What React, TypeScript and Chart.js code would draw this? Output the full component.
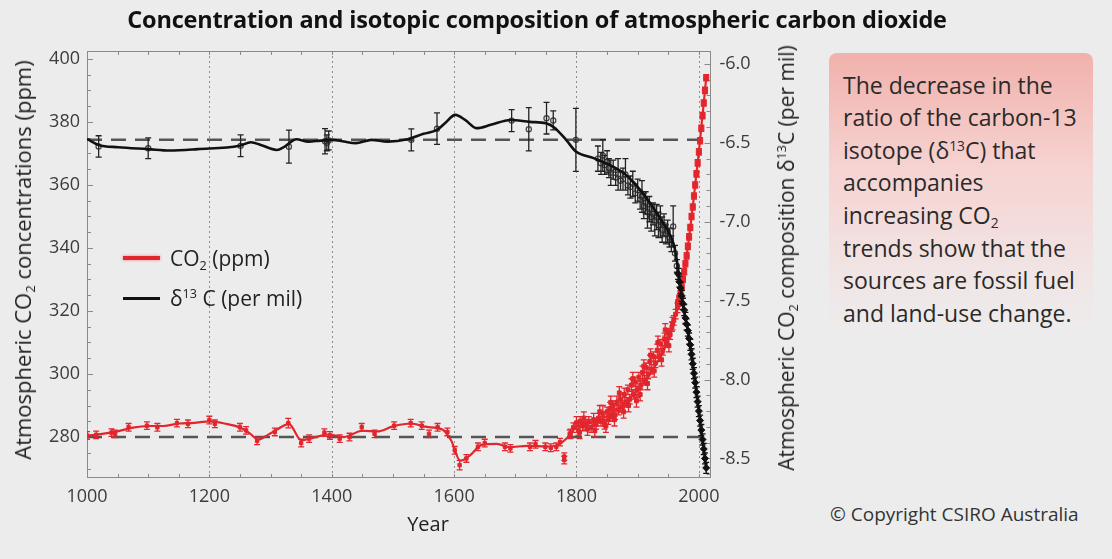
import React, { useEffect, useRef } from 'react';
import { Chart, registerables } from 'chart.js';
Chart.register(...registerables);

const FONT = '"Open Sans", "DejaVu Sans", sans-serif';
const RED = '#e2262d';
const BLACK = '#111111';
const BG = '#ececec';

// ---------- axis ticks ----------
const xTickYears = [1000, 1200, 1400, 1600, 1800, 2000];
const gridYears = [1200, 1400, 1600, 1800, 2000];
const co2Ticks = [280, 300, 320, 340, 360, 380, 400];
const d13cTicks = [-8.5, -8.0, -7.5, -7.0, -6.5, -6.0];

// ---------- CO2 (ppm) smoothed curve ----------
const co2LineYears = [1000, 1025, 1050, 1075, 1100, 1125, 1150, 1175, 1200, 1225, 1250, 1265, 1280, 1295, 1310, 1330, 1350, 1370, 1395, 1420, 1450, 1475, 1500, 1530, 1555, 1580, 1595, 1610, 1625, 1645, 1670, 1690, 1720, 1750, 1770, 1785, 1800, 1820, 1840, 1860, 1880, 1900, 1920, 1940, 1950, 1960, 1970, 1980, 1990, 2000, 2012];
const co2LineValues = [280.4, 281, 281.8, 283, 283.5, 283.5, 284.3, 284.5, 285, 284.3, 283, 281.3, 279.2, 280.6, 282.3, 284.2, 279, 279.8, 280.8, 280, 282, 281.8, 283.4, 284.3, 283.2, 282.5, 279, 272.5, 274, 277.5, 277.8, 276.8, 277.2, 277, 277.5, 279.8, 283.2, 284.3, 285.5, 288, 291, 295, 300, 306.5, 311, 317.5, 325.5, 337.5, 353, 370.5, 394];

// ---------- CO2 ice-core samples (pre-1800) ----------
const co2IceYears = [1000, 1015, 1040, 1046, 1068, 1098, 1115, 1147, 1165, 1200, 1209, 1250, 1260, 1278, 1307, 1329, 1350, 1363, 1388, 1397, 1413, 1429, 1449, 1470, 1502, 1529, 1547, 1559, 1573, 1589, 1601, 1609, 1620, 1639, 1650, 1683, 1692, 1724, 1733, 1749, 1758, 1767, 1773, 1780, 1780, 1789];
const co2IceValues = [280.5, 280.7, 281.4, 281, 283.1, 283.6, 283.1, 284.4, 284.2, 285.4, 284.2, 283.1, 282.1, 278.8, 281.6, 284.4, 278.1, 279.5, 281.4, 280.5, 279.5, 280, 283.1, 281, 283.6, 284.4, 283.6, 281, 283.1, 281.6, 275.8, 271.1, 273.2, 276.9, 278.1, 276.9, 276.4, 276.9, 277.7, 276.9, 276.6, 276.9, 278.4, 273.8, 272.7, 281];
const co2IceErrors = [1.2, 1.2, 1.2, 1.2, 1.2, 1.2, 1.2, 1.2, 1.2, 1.2, 1.2, 1.2, 1.2, 1.2, 1.2, 1.5, 1.2, 1.2, 1.2, 1.2, 1.2, 1.2, 1.2, 1.2, 1.2, 1.2, 1.2, 1.2, 1.2, 1.2, 1.2, 1.5, 1.2, 1.2, 1.2, 1.2, 1.2, 1.2, 1.2, 1.2, 1.2, 1.2, 1.2, 1.2, 1.2, 1.2];

// ---------- CO2 firn / ice samples 1790-1965 (cloud) ----------
const co2FirnYears = [1790, 1795, 1800, 1803, 1806, 1810, 1812, 1815, 1820, 1824, 1828, 1832, 1836, 1840, 1843, 1846, 1850, 1852, 1855, 1858, 1860, 1863, 1866, 1869, 1872, 1875, 1878, 1881, 1884, 1887, 1890, 1893, 1896, 1899, 1902, 1905, 1908, 1911, 1914, 1917, 1920, 1923, 1926, 1929, 1932, 1935, 1938, 1941, 1944, 1947, 1950, 1953, 1956, 1959, 1962, 1965];
const co2FirnValues = [281, 283, 284.5, 282, 285, 283.5, 286, 284, 285, 283, 285.5, 284, 286, 285, 287.5, 284, 288, 285.5, 289, 286.5, 290, 287, 291, 288.5, 292, 289.5, 293.5, 291, 295, 292, 296.5, 293.5, 297.5, 295, 299, 296.5, 300.5, 298, 302, 300, 304, 301.5, 305.5, 303.5, 307.5, 305.5, 309.5, 307.5, 311, 310, 313, 312.5, 315, 317, 319, 321];
const co2FirnErrors = [1.5, 1.5, 2, 1.5, 1.5, 1.5, 2, 1.5, 1.5, 1.5, 2, 1.5, 1.5, 1.5, 2.5, 1.5, 1.5, 1.5, 2, 1.5, 1.5, 1.5, 2, 1.5, 1.5, 1.5, 2, 1.5, 1.5, 1.5, 2, 1.5, 1.5, 2.5, 1.5, 1.5, 2, 1.5, 1.5, 1.5, 2, 1.5, 1.5, 1.5, 2, 1.5, 1.5, 1.5, 2, 1.5, 1.5, 1.5, 1.5, 1.5, 1.5, 1.5];
// second record inside the same cloud (lower / upper edge of the scatter)
const co2Firn2Years = [1805, 1818, 1830, 1838, 1848, 1856, 1862, 1870, 1877, 1885, 1892, 1898, 1904, 1910, 1916, 1921, 1927, 1933, 1939, 1945, 1951, 1957];
const co2Firn2Values = [281.5, 282.5, 282, 288, 283.5, 291, 285.5, 294, 288, 290, 298.5, 291.5, 293.5, 302.5, 297, 306, 301, 310, 304.5, 314, 309, 316];

// ---------- CO2 modern record ----------
const co2AirYears = [1966, 1968, 1970, 1972, 1974, 1976, 1978, 1980, 1982, 1984, 1986, 1988, 1990, 1992, 1994, 1996, 1998, 2000, 2002, 2004, 2006, 2008, 2010, 2012];
const co2AirValues = [322.5, 324, 325.5, 327.5, 330, 332.5, 335, 337.5, 340.5, 343.5, 346.5, 350, 353, 356.5, 360, 363.5, 367, 370.5, 374, 378, 382, 386, 390, 394];

// ---------- δ13C (per mil) smoothed curve ----------
const d13cLineYears = [1000, 1019, 1051, 1100, 1135, 1181, 1249, 1268, 1284, 1310, 1323, 1342, 1362, 1381, 1401, 1420, 1439, 1465, 1491, 1524, 1550, 1572, 1585, 1602, 1618, 1637, 1660, 1692, 1724, 1750, 1763, 1783, 1799, 1828, 1854, 1880, 1900, 1920, 1940, 1950, 1960, 1965, 1970, 1975, 1980, 1985, 1990, 1995, 2000, 2005, 2012];
const d13cLineValues = [-6.475, -6.513, -6.528, -6.54, -6.549, -6.54, -6.519, -6.496, -6.513, -6.545, -6.524, -6.477, -6.492, -6.486, -6.481, -6.492, -6.502, -6.481, -6.492, -6.477, -6.443, -6.418, -6.376, -6.323, -6.355, -6.407, -6.386, -6.355, -6.367, -6.376, -6.401, -6.481, -6.555, -6.597, -6.64, -6.7, -6.78, -6.88, -7.0, -7.06, -7.16, -7.27, -7.42, -7.55, -7.65, -7.76, -7.9, -8.05, -8.2, -8.35, -8.56];

// ---------- δ13C samples with uncertainties ----------
const d13cSampleYears = [1019, 1100, 1251, 1330, 1389, 1392, 1395, 1530, 1572, 1694, 1722, 1751, 1762, 1799, 1835, 1840, 1843, 1846, 1850, 1853, 1856, 1860, 1864, 1868, 1872, 1876, 1880, 1884, 1888, 1892, 1896, 1900, 1904, 1907, 1910, 1913, 1916, 1919, 1922, 1925, 1928, 1931, 1934, 1937, 1940, 1943, 1946, 1949, 1952, 1955, 1958, 1961, 1964];
const d13cSampleValues = [-6.523, -6.534, -6.519, -6.524, -6.49, -6.5, -6.485, -6.481, -6.41, -6.359, -6.414, -6.344, -6.358, -6.481, -6.6, -6.63, -6.58, -6.64, -6.62, -6.66, -6.69, -6.67, -6.72, -6.7, -6.74, -6.73, -6.7, -6.77, -6.78, -6.76, -6.82, -6.8, -6.86, -6.84, -6.9, -6.88, -6.94, -6.92, -6.97, -6.95, -6.99, -6.97, -7.02, -7.0, -7.05, -7.02, -7.08, -7.06, -7.1, -7.14, -7.03, -7.2, -7.28];
const d13cSampleErrors = [0.068, 0.066, 0.069, 0.105, 0.08, 0.05, 0.06, 0.07, 0.1, 0.07, 0.137, 0.1, 0.06, 0.2, 0.08, 0.07, 0.1, 0.06, 0.07, 0.06, 0.08, 0.06, 0.05, 0.1, 0.06, 0.07, 0.1, 0.06, 0.07, 0.08, 0.06, 0.07, 0.06, 0.1, 0.08, 0.07, 0.1, 0.08, 0.09, 0.07, 0.1, 0.08, 0.08, 0.1, 0.08, 0.07, 0.06, 0.07, 0.06, 0.05, 0.13, 0.05, 0.04];

// ---------- δ13C modern record ----------
const d13cAirYears = [1966, 1968, 1970, 1972, 1974, 1976, 1978, 1980, 1982, 1984, 1986, 1988, 1990, 1992, 1994, 1996, 1998, 2000, 2002, 2004, 2006, 2008, 2010, 2012];
const d13cAirValues = [-7.33, -7.38, -7.42, -7.47, -7.52, -7.56, -7.61, -7.65, -7.69, -7.74, -7.78, -7.84, -7.9, -7.96, -8.02, -8.08, -8.14, -8.2, -8.26, -8.32, -8.38, -8.44, -8.5, -8.56];

// ---------- reference (pre-industrial) levels ----------
const refYears = [1000, 2019];
const co2RefLevel = [280, 280];
const d13cRefLevel = [-6.48, -6.48];

const pts = (xs: number[], ys: number[]) => xs.map((x, i) => ({ x, y: ys[i] }));
const repeat = (n: number, v: number) => Array.from({ length: n }, () => v);

const framePlugin = {
  id: 'frameAndErrors',
  beforeDatasetsDraw(chart: any) {
    const { ctx, chartArea: a, scales } = chart;
    ctx.save();
    ctx.strokeStyle = '#8e8e8e';
    ctx.lineWidth = 1;
    ctx.setLineDash([2, 3]);
    for (const yr of gridYears) {
      const x = Math.round(scales.x.getPixelForValue(yr)) + 0.5;
      ctx.beginPath();
      ctx.moveTo(x, a.top);
      ctx.lineTo(x, a.bottom);
      ctx.stroke();
    }
    ctx.setLineDash([]);
    ctx.strokeStyle = '#8a8a8a';
    ctx.strokeRect(Math.round(a.left) + 0.5, Math.round(a.top) + 0.5, Math.round(a.width) - 1, Math.round(a.height) - 1);
    ctx.beginPath();
    for (let v = 270; v <= 400; v += 5) {
      const y = Math.round(scales.yL.getPixelForValue(v)) + 0.5;
      const len = v % 20 === 0 ? 6 : 4;
      ctx.moveTo(a.left, y);
      ctx.lineTo(a.left + len, y);
    }
    for (let k = -86; k <= -60; k += 1) {
      const y = Math.round(scales.yR.getPixelForValue(k / 10)) + 0.5;
      const len = k % 5 === 0 ? 6 : 4;
      ctx.moveTo(a.right, y);
      ctx.lineTo(a.right - len, y);
    }
    for (let yr = 1000; yr <= 2000; yr += 50) {
      const x = Math.round(scales.x.getPixelForValue(yr)) + 0.5;
      ctx.moveTo(x, a.bottom);
      ctx.lineTo(x, a.bottom - 4);
      ctx.moveTo(x, a.top);
      ctx.lineTo(x, a.top + 4);
    }
    ctx.stroke();
    ctx.restore();
  },
  afterDatasetDraw(chart: any, args: any) {
    const ds = chart.data.datasets[args.index];
    if (!ds.errorBars) return;
    const { ctx, chartArea: a } = chart;
    const xs = chart.scales[args.meta.xAxisID];
    const ys = chart.scales[args.meta.yAxisID];
    ctx.save();
    ctx.beginPath();
    ctx.rect(a.left, a.top, a.width, a.height);
    ctx.clip();
    ctx.strokeStyle = ds.errorColor;
    ctx.lineWidth = 1.3;
    ctx.beginPath();
    ds.data.forEach((p: any, i: number) => {
      const e = ds.errorBars[i];
      if (!e) return;
      const x = xs.getPixelForValue(p.x);
      const y1 = ys.getPixelForValue(p.y + e);
      const y2 = ys.getPixelForValue(p.y - e);
      ctx.moveTo(x, y1);
      ctx.lineTo(x, y2);
      ctx.moveTo(x - 3, y1);
      ctx.lineTo(x + 3, y1);
      ctx.moveTo(x - 3, y2);
      ctx.lineTo(x + 3, y2);
    });
    ctx.stroke();
    ctx.restore();
  },
};

const tickFont = { family: FONT, size: 18 };

export default function App() {
  const ref = useRef<HTMLCanvasElement>(null);
  useEffect(() => {
    const chart = new Chart(ref.current as HTMLCanvasElement, {
      type: 'line',
      data: {
        datasets: [
          {
            label: 'δ13C modern',
            data: pts(d13cAirYears, d13cAirValues),
            yAxisID: 'yR',
            showLine: false,
            pointStyle: 'rectRot',
            pointRadius: 3.5,
            pointBackgroundColor: BLACK,
            pointBorderColor: BLACK,
            errorBars: repeat(d13cAirYears.length, 0.035),
            errorColor: BLACK,
            order: 1,
          } as any,
          {
            label: 'δ13C (per mil)',
            data: pts(d13cLineYears, d13cLineValues),
            yAxisID: 'yR',
            borderColor: BLACK,
            borderWidth: 2.6,
            pointRadius: 0,
            cubicInterpolationMode: 'monotone',
            order: 2,
          },
          {
            label: 'δ13C samples',
            data: pts(d13cSampleYears, d13cSampleValues),
            yAxisID: 'yR',
            showLine: false,
            pointStyle: 'circle',
            pointRadius: 2.6,
            pointBackgroundColor: 'rgba(0,0,0,0)',
            pointBorderColor: '#444',
            pointBorderWidth: 1.2,
            errorBars: d13cSampleErrors,
            errorColor: '#222',
            order: 3,
          } as any,
          {
            label: 'CO2 modern',
            data: pts(co2AirYears, co2AirValues),
            yAxisID: 'yL',
            showLine: false,
            pointStyle: 'rect',
            pointRadius: 3.6,
            pointBackgroundColor: RED,
            pointBorderColor: RED,
            errorBars: repeat(co2AirYears.length, 1.0),
            errorColor: RED,
            order: 4,
          } as any,
          {
            label: 'CO2 (ppm)',
            data: pts(co2LineYears, co2LineValues),
            yAxisID: 'yL',
            borderColor: RED,
            borderWidth: 2.2,
            pointRadius: 0,
            cubicInterpolationMode: 'monotone',
            order: 5,
          },
          {
            label: 'CO2 firn',
            data: pts(co2FirnYears, co2FirnValues),
            yAxisID: 'yL',
            showLine: false,
            pointStyle: 'rect',
            pointRadius: 2.8,
            pointBackgroundColor: RED,
            pointBorderColor: RED,
            errorBars: co2FirnErrors,
            errorColor: RED,
            order: 6,
          } as any,
          {
            label: 'CO2 firn 2',
            data: pts(co2Firn2Years, co2Firn2Values),
            yAxisID: 'yL',
            showLine: false,
            pointStyle: 'rect',
            pointRadius: 2.8,
            pointBackgroundColor: RED,
            pointBorderColor: RED,
            errorBars: repeat(co2Firn2Years.length, 2),
            errorColor: RED,
            order: 6,
          } as any,
          {
            label: 'CO2 ice',
            data: pts(co2IceYears, co2IceValues),
            yAxisID: 'yL',
            showLine: false,
            pointStyle: 'rect',
            pointRadius: 2.4,
            pointBackgroundColor: RED,
            pointBorderColor: RED,
            errorBars: co2IceErrors,
            errorColor: RED,
            order: 7,
          } as any,
          {
            label: 'δ13C reference',
            data: pts(refYears, d13cRefLevel),
            yAxisID: 'yR',
            borderColor: '#555',
            borderWidth: 2.4,
            borderDash: [15, 9],
            pointRadius: 0,
            order: 8,
          },
          {
            label: 'CO2 reference',
            data: pts(refYears, co2RefLevel),
            yAxisID: 'yL',
            borderColor: '#555',
            borderWidth: 2.4,
            borderDash: [15, 9],
            pointRadius: 0,
            order: 9,
          },
        ],
      },
      options: {
        responsive: false,
        animation: false,
        events: [],
        layout: { padding: { top: 51, left: 0, right: 0, bottom: 0 } },
        plugins: { legend: { display: false }, tooltip: { enabled: false }, title: { display: false } },
        scales: {
          x: {
            type: 'linear',
            min: 1000,
            max: 2019,
            afterBuildTicks: (s: any) => { s.ticks = xTickYears.map((v) => ({ value: v })); },
            afterFit: (s: any) => { s.height = 81; },
            ticks: { font: tickFont, color: '#3c3c3c', padding: 8, maxRotation: 0, autoSkip: false, callback: (v: any) => String(v) },
            grid: { display: false, drawTicks: false },
            border: { display: false },
          },
          yL: {
            type: 'linear',
            position: 'left',
            min: 267,
            max: 402.5,
            afterBuildTicks: (s: any) => { s.ticks = co2Ticks.map((v) => ({ value: v })); },
            afterFit: (s: any) => { s.width = 87; },
            ticks: { font: tickFont, color: '#3c3c3c', padding: 7, callback: (v: any) => String(v) },
            grid: { display: false, drawTicks: false },
            border: { display: false },
          },
          yR: {
            type: 'linear',
            position: 'right',
            min: -8.624,
            max: -5.918,
            afterBuildTicks: (s: any) => { s.ticks = d13cTicks.map((v) => ({ value: v })); },
            afterFit: (s: any) => { s.width = 89.5; },
            ticks: { font: tickFont, color: '#3c3c3c', padding: 9, callback: (v: any) => Number(v).toFixed(1) },
            grid: { display: false, drawTicks: false },
            border: { display: false },
          },
        },
      } as any,
      plugins: [framePlugin as any],
    });
    return () => chart.destroy();
  }, []);

  const abs = (extra: React.CSSProperties): React.CSSProperties => ({ position: 'absolute', whiteSpace: 'nowrap', ...extra });
  const sup: React.CSSProperties = { fontSize: '0.6em', verticalAlign: '0.6em', lineHeight: 0 };
  const sub: React.CSSProperties = { fontSize: '0.6em', verticalAlign: '-0.3em', lineHeight: 0 };

  return (
    <div style={{ position: 'absolute', left: 0, top: 0, width: 1112, height: 559, background: BG, fontFamily: FONT, color: '#222', overflow: 'hidden' }}>
      <canvas ref={ref} width={800} height={559} style={{ position: 'absolute', left: 0, top: 0 }} />
      <div style={abs({ left: 537, top: 19, transform: 'translate(-50%, -50%)', fontSize: 23.5, fontWeight: 700, color: '#111', letterSpacing: '-0.2px' })}>
        Concentration and isotopic composition of atmospheric carbon dioxide
      </div>
      <div style={abs({ left: 22, top: 260, transform: 'translate(-50%, -50%) rotate(-90deg)', fontSize: 22, color: '#222' })}>
        Atmospheric CO<span style={sub}>2</span> concentrations (ppm)
      </div>
      <div style={abs({ left: 786, top: 258, transform: 'translate(-50%, -50%) rotate(-90deg)', fontSize: 21, color: '#222' })}>
        Atmospheric CO<span style={sub}>2</span> composition δ<span style={sup}>13</span>C (per mil)
      </div>
      <div style={abs({ left: 428, top: 523, transform: 'translate(-50%, -50%)', fontSize: 20, color: '#222' })}>Year</div>
      <div style={abs({ left: 123, top: 256, width: 37, height: 4, background: RED, boxShadow: '0 0 3px rgba(226,38,46,0.55)' })} />
      <div style={abs({ left: 170, top: 258, transform: 'translateY(-50%)', fontSize: 21, color: '#222' })}>
        CO<span style={sub}>2</span> (ppm)
      </div>
      <div style={abs({ left: 123, top: 296.5, width: 37, height: 3, background: BLACK })} />
      <div style={abs({ left: 170, top: 298, transform: 'translateY(-50%)', fontSize: 21, color: '#222' })}>
        δ<span style={sup}>13</span> C (per mil)
      </div>
      <div style={abs({ left: 829, top: 53, width: 264, height: 287, borderRadius: 8, background: 'linear-gradient(180deg, #f1b1ac 0%, #f6d3d1 40%, #f1e4e4 75%, #ededed 100%)' })} />
      <div style={abs({ left: 843, top: 68.7, fontSize: 23, lineHeight: '32.6px', color: '#2a2a2a' })}>
        The decrease in the<br />
        ratio of the carbon-13<br />
        isotope (δ<span style={sup}>13</span>C) that<br />
        accompanies<br />
        increasing CO<span style={sub}>2</span><br />
        trends show that the<br />
        sources are fossil fuel<br />
        and land-use change.
      </div>
      <div style={abs({ left: 830, top: 514, transform: 'translateY(-50%)', fontSize: 19, color: '#333' })}>
        © Copyright CSIRO Australia
      </div>
    </div>
  );
}
